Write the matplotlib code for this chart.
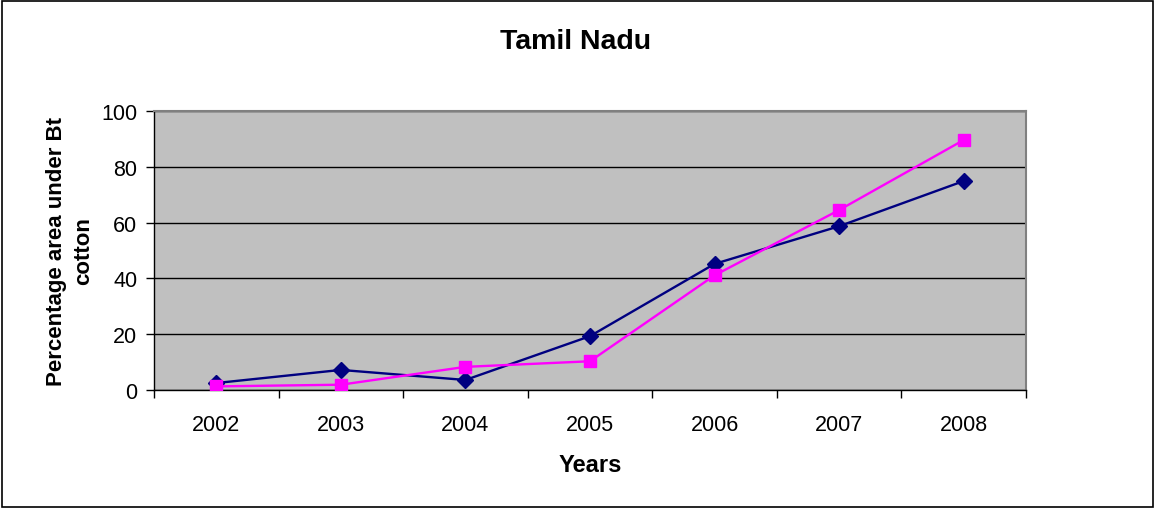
import matplotlib
matplotlib.use("Agg")
import matplotlib.pyplot as plt
from matplotlib.patches import Rectangle

plt.rcParams['font.family'] = ['Liberation Sans', 'DejaVu Sans']

# Data
years = ["2002", "2003", "2004", "2005", "2006", "2007", "2008"]
series_blue = [2.5, 7.2, 3.6, 19.3, 45.2, 58.7, 74.9]
series_pink = [1.3, 1.9, 8.3, 10.3, 41.1, 64.5, 89.6]
y_ticks = [0, 20, 40, 60, 80, 100]

fig = plt.figure(figsize=(11.55, 5.10), dpi=100)
ax = fig.add_axes([0.1333, 0.2333, 0.7550, 0.5471])
ax.set_facecolor("#C0C0C0")

x = list(range(len(years)))
ax.plot(x, series_blue, color="#000080", lw=1.7, marker="D", ms=8.5,
        markeredgecolor="#000080", zorder=3)
ax.plot(x, series_pink, color="#FF00FF", lw=1.7, marker="s", ms=8.5,
        markeredgecolor="#FF00FF", zorder=4)

ax.set_xlim(-0.5, len(years) - 0.5)
ax.set_ylim(0, 100)

# category boundaries get the tick marks, labels sit in between
ax.set_xticks([i - 0.5 for i in range(len(years) + 1)])
ax.set_xticklabels([])
ax.set_xticks(x, minor=True)
ax.set_xticklabels(years, minor=True, fontsize=15.5)
ax.tick_params(axis="x", which="major", direction="out", length=6, width=1, color="black")
ax.tick_params(axis="x", which="minor", length=0, pad=17)

ax.set_yticks(y_ticks)
ax.set_yticklabels([str(v) for v in y_ticks], fontsize=15.5)
ax.tick_params(axis="y", direction="out", length=6, width=1, pad=6)

ax.yaxis.grid(True, color="black", lw=1)
ax.set_axisbelow(True)

for side in ["top", "right"]:
    ax.spines[side].set_color("#808080")
    ax.spines[side].set_linewidth(1.5)
for side in ["left", "bottom"]:
    ax.spines[side].set_color("black")
    ax.spines[side].set_linewidth(1)

ax.set_xlabel("Years", fontsize=17, fontweight="bold", labelpad=13)
ax.set_ylabel("Percentage area under Bt\ncotton", fontsize=16, fontweight="bold",
              labelpad=5, linespacing=1.4)
fig.text(0.498, 0.918, "Tamil Nadu", ha="center", va="center", fontsize=20.5, fontweight="bold")

fig.patches.append(Rectangle((0.0015, 0.003), 0.997, 0.994, transform=fig.transFigure,
                             fill=False, edgecolor="black", lw=1.2))

fig.savefig("out.png", dpi=100)
